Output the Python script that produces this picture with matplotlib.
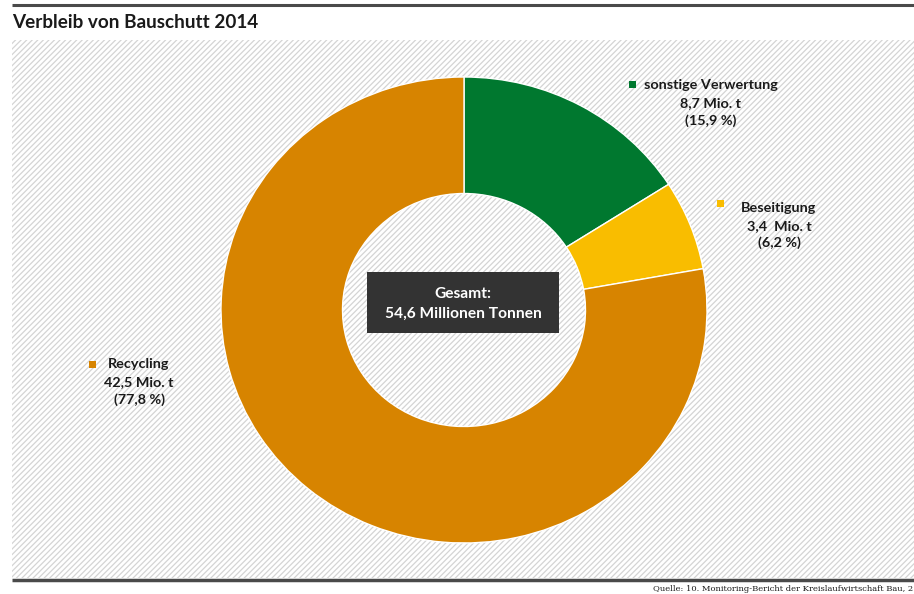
import matplotlib.pyplot as plt
from matplotlib.patches import Rectangle

# Verbleib von Bauschutt 2014, Mio. t
categories = ["sonstige Verwertung", "Beseitigung", "Recycling"]
mengen = [8.7, 3.4, 42.5]
farben = ["#00782f", "#f9bd00", "#d78400"]

W, H = 914, 594
plt.rcParams['font.family'] = ['Lato', 'DejaVu Sans']
plt.rcParams['hatch.color'] = '#d4d4d4'
plt.rcParams['hatch.linewidth'] = 0.9

fig = plt.figure(figsize=(W / 100, H / 100), dpi=100)
bg = fig.add_axes([0, 0, 1, 1])
bg.set_xlim(0, W)
bg.set_ylim(H, 0)
bg.axis('off')

# schraffierter Hintergrund und Linien
bg.add_patch(Rectangle((12, 40), W - 12, 538, facecolor='white',
                       edgecolor='#d4d4d4', hatch='//////', linewidth=0))
bg.plot([12, W], [4.5, 4.5], color='#4a4a4a', lw=2.2, solid_capstyle='butt')
bg.plot([12, W], [580, 580], color='#4a4a4a', lw=2.5, solid_capstyle='butt')

bg.text(12, 22, "Verbleib von Bauschutt 2014", fontsize=13.6, fontweight='bold',
        color='#1a1a1a', va='center', ha='left')
bg.text(913, 589, "Quelle: 10. Monitoring-Bericht der Kreislaufwirtschaft Bau, 2",
        fontsize=6, family='DejaVu Serif', va='center', ha='right', color='#1a1a1a')

# Ringdiagramm
cx, cy, rx, ry = 464, 310, 243, 233
ax = fig.add_axes([(cx - rx) / W, (H - cy - ry) / H, 2 * rx / W, 2 * ry / H])
ax.pie(mengen, colors=farben, startangle=90, counterclock=False, radius=1,
       wedgeprops=dict(width=0.5, edgecolor='white', linewidth=1))
ax.set_xlim(-1, 1)
ax.set_ylim(-1, 1)
ax.set_aspect('auto')
ax.axis('off')

gesamt = sum(mengen)

def fmt(v, nd=1):
    return f"{v:.{nd}f}".replace('.', ',')

# Beschriftungen: (Marker x, Marker y, Text-Mitte x, Zeilen y)
positionen = [(632, 84, 711, (85, 103, 121)),
              (720, 203, 779, (208, 226, 243)),
              (92, 364, 139, (364, 382, 400))]
for name, wert, farbe, (mx, my, tx, zeilen) in zip(categories, mengen, farben, positionen):
    sep = "  " if name == "Beseitigung" else " "
    bg.add_patch(Rectangle((mx - 3.5, my - 3.5), 7, 7, facecolor=farbe, lw=0))
    texte = [name, f"{fmt(wert)}{sep}Mio. t", f"({fmt(wert / gesamt * 100)} %)"]
    for t, y in zip(texte, zeilen):
        bg.text(tx, y, t, fontsize=10.4, fontweight='bold', color='#1a1a1a',
                ha='center', va='center')

# Gesamtbox in der Mitte
bg.add_patch(Rectangle((367, 272), 192, 61, facecolor='#333333', lw=0))
bg.text(463, 294, "Gesamt:", color='white', fontsize=11.2, fontweight='bold',
        ha='center', va='center')
bg.text(463, 314, f"{fmt(gesamt)} Millionen Tonnen", color='white', fontsize=11.2,
        fontweight='bold', ha='center', va='center')

fig.savefig("out.png", dpi=100)
